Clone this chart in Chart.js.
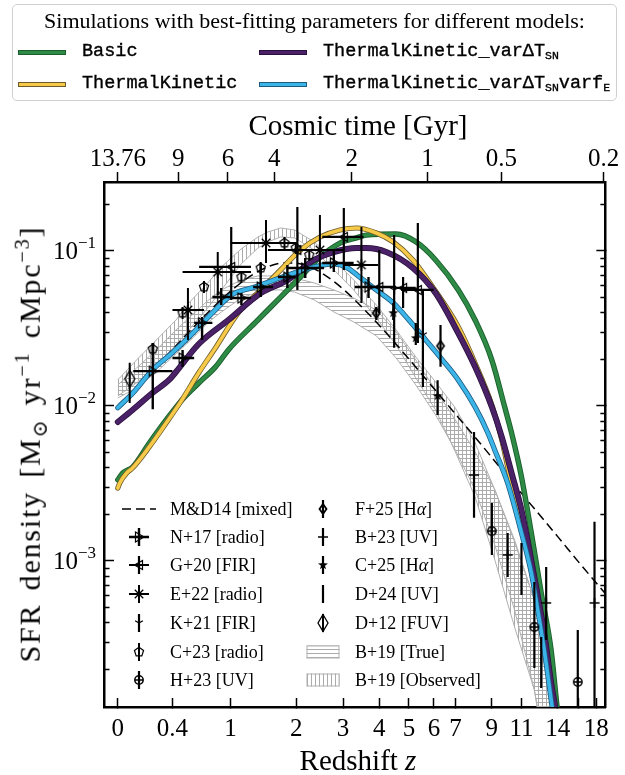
<!DOCTYPE html>
<html>
<head>
<meta charset="utf-8">
<script src="https://cdn.jsdelivr.net/npm/chart.js@4.4.1/dist/chart.umd.min.js"></script>
<style>
html,body{margin:0;padding:0;background:#fff;}
#wrap{position:relative;width:625px;height:775px;overflow:hidden;background:#fff;}
#c{position:absolute;left:0;top:0;}
.ser{font-family:"Liberation Serif","DejaVu Serif",serif;color:#000;position:absolute;white-space:nowrap;line-height:1;}
.mono{font-family:"Liberation Mono","DejaVu Sans Mono",monospace;color:#000;white-space:nowrap;font-size:18.5px;-webkit-text-stroke:0.35px #000;}
.mono sub{font-size:62%;vertical-align:-0.3em;line-height:0;}
#topleg{position:absolute;left:12px;top:4px;width:605px;height:97px;border:1px solid #d0d0d0;border-radius:5px;box-sizing:border-box;background:#fff;}
.sw{position:absolute;height:3px;width:46px;}
.lr{position:absolute;height:24px;line-height:24px;}
.lg{position:absolute;font-family:"Liberation Serif","DejaVu Serif",serif;font-size:18px;line-height:20px;height:20px;white-space:nowrap;color:#000;}
.lc{position:absolute;}
#ylab{left:30px;top:444px;font-size:30px;line-height:1.15;letter-spacing:1.8px;word-spacing:4px;transform:translate(-50%,-50%) rotate(-90deg);}
#ylab sub,#ylab sup{font-size:68%;line-height:0;}
.ytl{font-size:25px;text-align:right;width:80px;}
.ytl sup{font-size:17px;line-height:0;vertical-align:11px;}
</style>
</head>
<body>
<div id="wrap">
<canvas id="c" width="625" height="775"></canvas>
<div id="topleg">
  <div class="ser" style="left:0;width:100%;text-align:center;top:5px;font-size:22px;">Simulations with best-fitting parameters for different models:</div>
  <div class="sw" style="left:5px;top:45px;background:#2e8b46;border:1px solid #1b5e2b;"></div>
  <div class="lr mono" style="left:69px;top:35px;"><span>Basic</span></div>
  <div class="sw" style="left:5px;top:77px;background:#f7c948;border:1px solid #6b5b2a;"></div>
  <div class="lr mono" style="left:69px;top:67px;"><span>ThermalKinetic</span></div>
  <div class="sw" style="left:246px;top:45px;background:#4a2166;border:1px solid #2a0f3f;"></div>
  <div class="lr mono" style="left:310px;top:35px;"><span>ThermalKinetic_varΔT<sub>SN</sub></span></div>
  <div class="sw" style="left:246px;top:77px;background:#3bb5e8;border:1px solid #1d5a80;"></div>
  <div class="lr mono" style="left:310px;top:67px;"><span>ThermalKinetic_varΔT<sub>SN</sub>varf<sub>E</sub></span></div>
</div>
<div class="ser" style="left:104px;width:508px;text-align:center;top:111px;font-size:29px;">Cosmic time [Gyr]</div>
<div class="ser" style="left:104px;width:508px;text-align:center;top:746px;font-size:29px;">Redshift <i>z</i></div>
<div class="ser" id="ylab">SFR density [M<sub>⊙</sub> yr<sup>−1</sup> cMpc<sup>−3</sup>]</div>
<div id="ytl"></div>
<div id="inleg"></div>
</div>
<script>
// ---------------- axis ticks ----------------
const Z_TICKS = [0, 0.4, 1, 2, 3, 4, 5, 6, 7, 9, 11, 14, 16, 18];
const Z_TICK_LABELS = ['0', '0.4', '1', '2', '3', '4', '5', '6', '7', '9', '11', '14', '', '18'];
const TIME_TICK_Z = [0, 0.45, 0.97, 1.62, 3.22, 5.73, 9.6, 18.9];
const TIME_TICK_LABELS = ['13.76', '9', '6', '4', '2', '1', '0.5', '0.2'];
const Y_TICKS = [1e-3, 1e-2, 1e-1];
const Y_TICK_EXP = ['−3', '−2', '−1'];

// ---------------- simulation curves ----------------
const basicZ = [0, 0.031, 0.095, 0.214, 0.347, 0.484, 0.646, 0.825, 0.975, 1.327, 1.725, 2.077, 2.474, 2.925, 3.351, 3.623, 4.546, 5.263, 6.073, 7.134, 8.019, 9.0, 9.823, 10.29, 11.0, 11.75, 12.55, 13.4, 13.94, 14.6];
const basicSFR = [0.00332, 0.00368, 0.00402, 0.00574, 0.00809, 0.01089, 0.0140, 0.0178, 0.0229, 0.0342, 0.0502, 0.0676, 0.091, 0.112, 0.121, 0.126, 0.128, 0.114, 0.0871, 0.0558, 0.0357, 0.0197, 0.0098, 0.00667, 0.00347, 0.00151, 0.00062, 0.000266, 0.000114, 0.00005];

const tkZ = [0, 0.012, 0.056, 0.095, 0.214, 0.347, 0.484, 0.646, 0.825, 1.099, 1.413, 1.725, 2.077, 2.474, 2.925, 3.351, 3.912, 4.446, 5.15, 5.946, 7.134, 8.019, 9.0, 9.627, 10.15, 11.0, 11.6, 12.22, 12.8, 13.4, 13.76, 14.4];
const tkSFR = [0.00294, 0.00317, 0.00368, 0.00396, 0.00542, 0.00773, 0.01089, 0.0163, 0.0236, 0.0397, 0.0558, 0.0751, 0.101, 0.1225, 0.136, 0.140, 0.130, 0.114, 0.0871, 0.0583, 0.0322, 0.0188, 0.0101, 0.00601, 0.00357, 0.00178, 0.00101, 0.000558, 0.000308, 0.000163, 0.000114, 0.00005];

const varTZ = [0, 0.095, 0.237, 0.371, 0.43, 0.646, 0.975, 1.413, 1.844, 2.35, 2.78, 3.35, 3.62, 4.22, 5.15, 6.07, 7.13, 8.02, 9.0, 9.63, 10.29, 11.0, 11.45, 12.22, 12.8, 13.4, 13.76, 14.4];
const varTSFR = [0.00785, 0.00938, 0.01208, 0.01465, 0.0165, 0.0250, 0.0357, 0.0533, 0.0647, 0.0871, 0.098, 0.104, 0.104, 0.098, 0.0773, 0.0533, 0.0294, 0.0178, 0.0098, 0.00628, 0.00368, 0.00212, 0.00136, 0.00062, 0.000342, 0.000163, 0.000114, 0.00005];

const varTfZ = [0, 0.11, 0.237, 0.388, 0.549, 0.714, 0.858, 1.012, 1.327, 1.62, 1.96, 2.35, 2.62, 2.78, 3.09, 3.43, 3.91, 4.45, 5.00, 5.66, 6.38, 7.13, 8.02, 8.76, 9.18, 10.02, 11.0, 11.75, 12.22, 12.8, 13.49, 14.2];
const varTfSFR = [0.0097, 0.01245, 0.0170, 0.0216, 0.0277, 0.0357, 0.0434, 0.0518, 0.0583, 0.0647, 0.0718, 0.0785, 0.0815, 0.0820, 0.0780, 0.0676, 0.0558, 0.0460, 0.0357, 0.0265, 0.0197, 0.01465, 0.0098, 0.00667, 0.00517, 0.00317, 0.00151, 0.000834, 0.000503, 0.000266, 0.000114, 0.00005];

// ---------------- M&D14 ----------------
const md14Z = [0, 0.25, 0.5, 0.75, 1.0, 1.25, 1.5, 1.75, 2.0, 2.25, 2.5, 3.0, 3.5, 4.0, 5.0, 6.0, 7.0, 8.0, 10, 12, 14, 16, 19.5];
const md14SFR = [0.0095, 0.0171, 0.0275, 0.0404, 0.0546, 0.0680, 0.0781, 0.0832, 0.0831, 0.0788, 0.0720, 0.0566, 0.0431, 0.0330, 0.0200, 0.0129, 0.0088, 0.0063, 0.0035, 0.00216, 0.00143, 0.00099, 0.00058];

// ---------------- B+19 bands ----------------
const b19Z = [0, 0.122, 0.268, 0.431, 0.549, 0.749, 0.892, 1.137, 1.370, 1.518, 1.725, 1.968, 2.350, 2.782, 3.272, 3.912, 4.547, 5.263, 6.073, 6.988, 8.020, 9.186, 10.50, 11.99, 13.05, 13.66, 15.06];
const b19ObsHi = [0.01465, 0.01971, 0.02653, 0.03572, 0.04599, 0.06282, 0.07848, 0.1026, 0.1226, 0.1320, 0.1401, 0.1360, 0.1138, 0.0871, 0.0647, 0.0446, 0.0308, 0.0206, 0.01422, 0.00966, 0.00575, 0.00286, 0.00132, 0.000558, 0.000265, 0.000114, 0.0000286];
const b19ObsLo = [0.01155, 0.01401, 0.01831, 0.02464, 0.0308, 0.04334, 0.05578, 0.08208, 0.1041, 0.1138, 0.1226, 0.1208, 0.1010, 0.0751, 0.0558, 0.0368, 0.0246, 0.0151, 0.00938, 0.00503, 0.00258, 0.00101, 0.000373, 0.0001465, 0.0000518, 0.0000286, 0.0000136];
const b19TrueHi = [0.0136, 0.0175, 0.0229, 0.0308, 0.0368, 0.0481, 0.0558, 0.0647, 0.0687, 0.0687, 0.0687, 0.0666, 0.0619, 0.0558, 0.0495, 0.0414, 0.0299, 0.0197, 0.01263, 0.00808, 0.00503, 0.00286, 0.00136, 0.000558, 0.000246, 0.0001263, 0.0000286];
const b19TrueLo = [0.01121, 0.0130, 0.0165, 0.0216, 0.0258, 0.0347, 0.0402, 0.0495, 0.0541, 0.0558, 0.0558, 0.0541, 0.0481, 0.0402, 0.0347, 0.0282, 0.0203, 0.0136, 0.00871, 0.00518, 0.00286, 0.00126, 0.000481, 0.0001465, 0.0000446, 0.0000286, 0.0000136];

// ---------------- observations ----------------
const n17Z = [0.24, 0.49, 0.68, 0.89, 1.14, 1.41, 1.84, 2.17, 2.78, 3.68];
const n17ZLo = [0.10, 0.40, 0.60, 0.79, 1.00, 1.30, 1.68, 1.84, 2.52, 3.30];
const n17ZHi = [0.40, 0.60, 0.79, 1.00, 1.27, 1.60, 1.99, 2.56, 3.27, 4.55];
const n17SFR = [0.0167, 0.0203, 0.0342, 0.0502, 0.0495, 0.0583, 0.0676, 0.0773, 0.0833, 0.0583];
const n17Lo = [0.0095, 0.0178, 0.0265, 0.0446, 0.0446, 0.0502, 0.0575, 0.0666, 0.0729, 0.0495];
const n17Hi = [0.0254, 0.0229, 0.0373, 0.0575, 0.0533, 0.0833, 0.0809, 0.0897, 0.1010, 0.0676];

const g20Z = [1.01, 2.02, 3.02, 4.00, 4.79, 5.34];
const g20ZLo = [0.65, 1.52, 2.52, 3.62, 4.48, 4.72];
const g20ZHi = [1.27, 2.85, 3.54, 4.48, 5.26, 5.99];
const g20SFR = [0.0785, 0.101, 0.1226, 0.0583, 0.0575, 0.0558];
const g20Lo = [0.0481, 0.0558, 0.0751, 0.0396, 0.0427, 0.0254];
const g20Hi = [0.1422, 0.1914, 0.1886, 0.101, 0.0676, 0.1509];

const e22Z = [0.54, 0.85, 1.49, 2.47, 3.48];
const e22ZLo = [0.40, 0.49, 1.00, 2.08, 3.02];
const e22ZHi = [0.70, 1.27, 1.99, 3.02, 3.97];
const e22SFR = [0.0414, 0.0729, 0.1121, 0.101, 0.0809];
const e22Lo = [0.0265, 0.0518, 0.0833, 0.0619, 0.046];
const e22Hi = [0.0575, 0.0981, 0.1578, 0.1699, 0.1422];

const k21Z = [4.48, 5.54];
const k21SFR = [0.0558, 0.0286];
const k21Lo = [0.0236, 0.0132];
const k21Hi = [0.1263, 0.0558];

const c23Z = [0.24, 0.49, 0.70, 1.14, 1.41, 1.79, 1.99, 2.25];
const c23SFR = [0.0232, 0.0396, 0.0583, 0.0676, 0.0773, 0.1121, 0.1041, 0.0938];
const c23Lo = [0.0212, 0.0362, 0.0533, 0.0618, 0.0706, 0.1025, 0.0951, 0.0857];
const c23Hi = [0.0254, 0.0433, 0.0638, 0.0740, 0.0846, 0.1226, 0.1139, 0.1026];

const h23Z = [9.0, 11.99, 15.97];
const h23SFR = [0.00155, 0.000373, 0.000165];
const h23Lo = [0.00109, 0.000203, 0.0001];
const h23Hi = [0.00236, 0.000729, 0.000357];

const f25Z = [3.91, 6.29];
const f25SFR = [0.0396, 0.0243];
const f25Lo = [0.0357, 0.0178];
const f25Hi = [0.0433, 0.0331];

const b23Z = [7.96, 10.02, 12.97, 17.81];
const b23SFR = [0.00357, 0.00109, 0.000534, 0.000534];
const b23Lo = [0.00189, 0.000785, 0.000308, 0.00008];
const b23Hi = [0.00677, 0.00151, 0.000911, 0.00178];

const c25Z = [4.45, 5.26, 6.16];
const c25SFR = [0.0396, 0.0273, 0.01155];
const c25Lo = [0.0357, 0.0246, 0.00871];
const c25Hi = [0.0460, 0.0342, 0.0146];

const d24Z = [11.0, 12.55];
const d24SFR = [0.000871, 0.000229];
const d24Lo = [0.000601, 0.000151];
const d24Hi = [0.00130, 0.000322];

const d12Z = [0.076];
const d12SFR = [0.0149];
const d12Lo = [0.0104];
const d12Hi = [0.0189];

// ---------------- helpers ----------------
const SERIF = '"Liberation Serif","DejaVu Serif",serif';
const XMIN = -0.0369, XMAX = 1.3034;
const YMIN = 1.138e-4, YMAX = 0.2773;
const lx = z => Math.log10(1 + z);
const pts = (zs, ys) => zs.map((z, i) => ({x: lx(z), y: ys[i]}));

function mk(size, fn) {
  const c = document.createElement('canvas');
  c.width = size; c.height = size;
  const g = c.getContext('2d');
  g.strokeStyle = '#000'; g.fillStyle = '#000';
  fn(g, size / 2, size / 2);
  return c;
}
const MARK = {
  triR: () => mk(16, (g, x, y) => { g.lineWidth = 1.2; g.beginPath(); g.moveTo(x - 3.5, y - 5); g.lineTo(x + 5, y); g.lineTo(x - 3.5, y + 5); g.closePath(); g.stroke(); }),
  triL: () => mk(16, (g, x, y) => { g.lineWidth = 1.2; g.beginPath(); g.moveTo(x + 3.5, y - 4.5); g.lineTo(x - 4.5, y); g.lineTo(x + 3.5, y + 4.5); g.closePath(); g.stroke(); }),
  aster: () => mk(16, (g, x, y) => { g.lineWidth = 1.3; g.beginPath(); for (let k = 0; k < 4; k++) { const a = k * Math.PI / 4; g.moveTo(x + 6 * Math.cos(a), y + 6 * Math.sin(a)); g.lineTo(x - 6 * Math.cos(a), y - 6 * Math.sin(a)); } g.stroke(); }),
  tri1: () => mk(14, (g, x, y) => { g.lineWidth = 1.3; g.beginPath(); g.moveTo(x, y); g.lineTo(x, y + 4.5); g.moveTo(x, y); g.lineTo(x - 3.9, y - 2.3); g.moveTo(x, y); g.lineTo(x + 3.9, y - 2.3); g.stroke(); }),
  penta: () => mk(16, (g, x, y) => { g.lineWidth = 1.2; g.beginPath(); for (let k = 0; k < 5; k++) { const a = -Math.PI / 2 + k * 2 * Math.PI / 5; const px = x + 4.8 * Math.cos(a), py = y + 4.8 * Math.sin(a); if (k) g.lineTo(px, py); else g.moveTo(px, py); } g.closePath(); g.stroke(); }),
  oplus: () => mk(14, (g, x, y) => { g.lineWidth = 1.5; g.beginPath(); g.arc(x, y, 4.2, 0, 2 * Math.PI); g.moveTo(x - 4.2, y); g.lineTo(x + 4.2, y); g.moveTo(x, y - 4.2); g.lineTo(x, y + 4.2); g.stroke(); }),
  dthin: () => mk(16, (g, x, y) => { g.lineWidth = 1.8; g.beginPath(); g.moveTo(x, y - 5); g.lineTo(x + 3.5, y); g.lineTo(x, y + 5); g.lineTo(x - 3.5, y); g.closePath(); g.stroke(); }),
  plus: () => mk(14, (g, x, y) => { g.lineWidth = 1.4; g.beginPath(); g.moveTo(x - 5, y); g.lineTo(x + 5, y); g.moveTo(x, y - 5); g.lineTo(x, y + 5); g.stroke(); }),
  star5: () => mk(14, (g, x, y) => { g.beginPath(); for (let k = 0; k < 10; k++) { const r = k % 2 ? 2.1 : 5.2; const a = -Math.PI / 2 + k * Math.PI / 5; const px = x + r * Math.cos(a), py = y + r * Math.sin(a); if (k) g.lineTo(px, py); else g.moveTo(px, py); } g.closePath(); g.fill(); }),
  vline: () => mk(14, (g, x, y) => { g.lineWidth = 1.5; g.beginPath(); g.moveTo(x, y - 4.5); g.lineTo(x, y + 4.5); g.stroke(); }),
  dtall: () => mk(22, (g, x, y) => { g.lineWidth = 1.3; g.beginPath(); g.moveTo(x, y - 8.5); g.lineTo(x + 5, y); g.lineTo(x, y + 8.5); g.lineTo(x - 5, y); g.closePath(); g.stroke(); })
};

function hatchCanvas(dir) {
  const c = document.createElement('canvas'); c.width = 4; c.height = 4;
  const g = c.getContext('2d'); g.strokeStyle = '#ababab'; g.lineWidth = 1;
  g.beginPath();
  if (dir === 'h') { g.moveTo(0, 2.5); g.lineTo(4, 2.5); } else { g.moveTo(2.5, 0); g.lineTo(2.5, 4); }
  g.stroke();
  return c;
}
const mainCtx = document.getElementById('c').getContext('2d');
const patH = mainCtx.createPattern(hatchCanvas('h'), 'repeat');
const patV = mainCtx.createPattern(hatchCanvas('v'), 'repeat');

// ---------------- datasets ----------------
const datasets = [];
const bandEdge = '#b0b0b0';
datasets.push({data: pts(b19Z, b19ObsLo), borderColor: bandEdge, borderWidth: 1, pointRadius: 0, fill: false, order: 100});
datasets.push({data: pts(b19Z, b19ObsHi), borderColor: bandEdge, borderWidth: 1, pointRadius: 0, fill: '-1', backgroundColor: patV, order: 99});
datasets.push({data: pts(b19Z, b19TrueLo), borderColor: bandEdge, borderWidth: 1, pointRadius: 0, fill: false, order: 98});
datasets.push({data: pts(b19Z, b19TrueHi), borderColor: bandEdge, borderWidth: 1, pointRadius: 0, fill: '-1', backgroundColor: patH, order: 97});

datasets.push({data: pts(md14Z, md14SFR), borderColor: '#000', borderWidth: 1.5, borderDash: [9, 5], pointRadius: 0, fill: false, cubicInterpolationMode: 'monotone', order: 90});

function model(z, s, core, edge, wc, we, ord) {
  const base = {pointRadius: 0, fill: false, cubicInterpolationMode: 'monotone', borderJoinStyle: 'round', borderCapStyle: 'round'};
  datasets.push(Object.assign({data: pts(z, s), borderColor: edge, borderWidth: we, order: ord + 1}, base));
  datasets.push(Object.assign({data: pts(z, s), borderColor: core, borderWidth: wc, order: ord}, base));
}
model(basicZ, basicSFR, '#2e8b46', '#1b5e2b', 3.6, 5.4, 80);
model(tkZ, tkSFR, '#f7c948', '#6b5b2a', 3.6, 5.2, 78);
model(varTZ, varTSFR, '#4a2166', '#2a0f3f', 4.4, 6.0, 76);
model(varTfZ, varTfSFR, '#3bb5e8', '#1d5a80', 3.6, 5.2, 74);

function obs(z, s, lo, hi, zlo, zhi, marker, lw) {
  const d = [];
  for (let i = 0; i < z.length; i++) {
    if (zlo) { d.push({x: lx(zlo[i]), y: s[i]}, {x: lx(zhi[i]), y: s[i]}, {x: lx(zhi[i]), y: null}); }
    d.push({x: lx(z[i]), y: lo[i]}, {x: lx(z[i]), y: hi[i]}, {x: lx(z[i]), y: null});
  }
  datasets.push({data: d, borderColor: '#000', borderWidth: lw, pointRadius: 0, fill: false, spanGaps: false, borderCapStyle: 'butt', order: 10});
  datasets.push({data: pts(z, s), showLine: false, pointStyle: marker, pointRadius: 4, pointHoverRadius: 4, fill: false, order: 5});
}
obs(n17Z, n17SFR, n17Lo, n17Hi, n17ZLo, n17ZHi, MARK.triR(), 2.4);
obs(g20Z, g20SFR, g20Lo, g20Hi, g20ZLo, g20ZHi, MARK.triL(), 2.2);
obs(e22Z, e22SFR, e22Lo, e22Hi, e22ZLo, e22ZHi, MARK.aster(), 2.0);
obs(k21Z, k21SFR, k21Lo, k21Hi, null, null, MARK.tri1(), 2.2);
obs(c23Z, c23SFR, c23Lo, c23Hi, null, null, MARK.penta(), 2.0);
obs(h23Z, h23SFR, h23Lo, h23Hi, null, null, MARK.oplus(), 2.2);
obs(f25Z, f25SFR, f25Lo, f25Hi, null, null, MARK.dthin(), 2.2);
obs(b23Z, b23SFR, b23Lo, b23Hi, null, null, MARK.plus(), 2.2);
obs(c25Z, c25SFR, c25Lo, c25Hi, null, null, MARK.star5(), 2.2);
obs(d24Z, d24SFR, d24Lo, d24Hi, null, null, MARK.vline(), 2.2);
obs(d12Z, d12SFR, d12Lo, d12Hi, null, null, MARK.dtall(), 2.0);

// ---------------- minor ticks plugin ----------------
const minorTicks = {
  id: 'minorTicks',
  afterDraw(chart) {
    const y = chart.scales.y, a = chart.chartArea, g = chart.ctx;
    g.save(); g.strokeStyle = '#000'; g.lineWidth = 1.4;
    for (let e = -4; e <= 0; e++) {
      for (let m = 2; m <= 9; m++) {
        const v = m * Math.pow(10, e);
        if (v < y.min || v > y.max) continue;
        const p = Math.round(y.getPixelForValue(v)) + 0.5;
        g.beginPath();
        g.moveTo(a.left, p); g.lineTo(a.left + 5.5, p);
        g.moveTo(a.right, p); g.lineTo(a.right - 5, p);
        g.stroke();
      }
    }
    g.restore();
  }
};

const tickFont = {family: SERIF, size: 25};
const gridBase = {display: true, drawOnChartArea: false, drawTicks: true, tickWidth: 1.5, tickColor: '#000'};
const borderBase = {display: true, color: '#000', width: 2.5};

const chart = new Chart(mainCtx, {
  type: 'line',
  data: {datasets},
  options: {
    responsive: false, animation: false, devicePixelRatio: 1, events: [],
    layout: {padding: {left: 0, right: 13, top: 0, bottom: 0}, autoPadding: false},
    plugins: {legend: {display: false}, tooltip: {enabled: false}},
    scales: {
      x: {
        type: 'linear', position: 'bottom', min: XMIN, max: XMAX, z: 1,
        afterBuildTicks: s => { s.ticks = Z_TICKS.map(v => ({value: lx(v)})); },
        afterFit: s => { s.height = 68; },
        ticks: {autoSkip: false, maxRotation: 0, minRotation: 0, padding: 16, color: '#000', font: tickFont, callback: (v, i) => Z_TICK_LABELS[i]},
        grid: Object.assign({tickLength: -9}, gridBase),
        border: borderBase
      },
      xTop: {
        type: 'linear', position: 'top', min: XMIN, max: XMAX, z: 1,
        afterBuildTicks: s => { s.ticks = TIME_TICK_Z.map(v => ({value: lx(v)})); },
        afterFit: s => { s.height = 182; },
        ticks: {autoSkip: false, maxRotation: 0, minRotation: 0, padding: -2, color: '#000', font: tickFont, callback: (v, i) => TIME_TICK_LABELS[i]},
        grid: Object.assign({tickLength: 10}, gridBase),
        border: borderBase
      },
      y: {
        type: 'logarithmic', position: 'left', min: YMIN, max: YMAX, z: 1,
        afterBuildTicks: s => { s.ticks = Y_TICKS.map(v => ({value: v})); },
        afterFit: s => { s.width = 104; },
        ticks: {display: false},
        grid: Object.assign({tickLength: -10}, gridBase),
        border: borderBase
      },
      yR: {
        type: 'logarithmic', position: 'right', min: YMIN, max: YMAX, z: 1,
        afterBuildTicks: s => { s.ticks = Y_TICKS.map(v => ({value: v})); },
        afterFit: s => { s.width = 0; },
        ticks: {display: false},
        grid: Object.assign({tickLength: -9}, gridBase),
        border: borderBase
      }
    }
  },
  plugins: [minorTicks]
});

// y tick labels (10^n with real superscripts), placed with the y scale
const ytl = document.getElementById('ytl');
Y_TICKS.forEach((v, i) => {
  const py = chart.scales.y.getPixelForValue(v);
  const d = document.createElement('div');
  d.className = 'ser ytl';
  d.style.left = (96 - 80) + 'px';
  d.style.top = (py - 12.5) + 'px';
  d.innerHTML = '10<sup>' + Y_TICK_EXP[i] + '</sup>';
  ytl.appendChild(d);
});

// ---------------- inner legend (HTML) ----------------
const LEG_ROWS = [509, 537, 565, 594, 623, 652, 680];
const LEG_COL1 = ['M&amp;D14 [mixed]', 'N+17 [radio]', 'G+20 [FIR]', 'E+22 [radio]', 'K+21 [FIR]', 'C+23 [radio]', 'H+23 [UV]'];
const LEG_COL2 = ['F+25 [H<i>α</i>]', 'B+23 [UV]', 'C+25 [H<i>α</i>]', 'D+24 [UV]', 'D+12 [FUV]', 'B+19 [True]', 'B+19 [Observed]'];
const inleg = document.getElementById('inleg');
function legIcon(cx, cy, draw) {
  const c = document.createElement('canvas'); c.width = 44; c.height = 26; c.className = 'lc';
  c.style.left = (cx - 22) + 'px'; c.style.top = (cy - 13) + 'px';
  const g = c.getContext('2d'); g.strokeStyle = '#000'; g.fillStyle = '#000';
  draw(g, 22, 13);
  inleg.appendChild(c);
}
function eb(g, x, y, hx, vy, lw) {
  g.lineWidth = lw; g.beginPath();
  if (hx) { g.moveTo(x - hx, y); g.lineTo(x + hx, y); }
  g.moveTo(x, y - vy); g.lineTo(x, y + vy); g.stroke();
}
function putMarker(g, m, x, y) { g.drawImage(m, x - m.width / 2, y - m.height / 2); }
const c1x = 139, c2x = 323;
legIcon(c1x, LEG_ROWS[0], (g, x, y) => { g.lineWidth = 1.5; g.setLineDash([9, 5]); g.beginPath(); g.moveTo(x - 17, y); g.lineTo(x + 17, y); g.stroke(); });
legIcon(c1x, LEG_ROWS[1], (g, x, y) => { eb(g, x, y, 10, 9, 2.4); putMarker(g, MARK.triR(), x, y); });
legIcon(c1x, LEG_ROWS[2], (g, x, y) => { eb(g, x, y, 10, 9, 2.2); putMarker(g, MARK.triL(), x, y); });
legIcon(c1x, LEG_ROWS[3], (g, x, y) => { eb(g, x, y, 10, 9, 2.0); putMarker(g, MARK.aster(), x, y); });
legIcon(c1x, LEG_ROWS[4], (g, x, y) => { eb(g, x, y, 0, 9, 2.2); putMarker(g, MARK.tri1(), x, y); });
legIcon(c1x, LEG_ROWS[5], (g, x, y) => { eb(g, x, y, 0, 9, 2.0); putMarker(g, MARK.penta(), x, y); });
legIcon(c1x, LEG_ROWS[6], (g, x, y) => { eb(g, x, y, 0, 9, 2.2); putMarker(g, MARK.oplus(), x, y); });
legIcon(c2x, LEG_ROWS[0], (g, x, y) => { eb(g, x, y, 0, 9, 2.2); putMarker(g, MARK.dthin(), x, y); });
legIcon(c2x, LEG_ROWS[1], (g, x, y) => { eb(g, x, y, 0, 9, 2.2); putMarker(g, MARK.plus(), x, y); });
legIcon(c2x, LEG_ROWS[2], (g, x, y) => { eb(g, x, y, 0, 9, 2.2); putMarker(g, MARK.star5(), x, y); });
legIcon(c2x, LEG_ROWS[3], (g, x, y) => { eb(g, x, y, 0, 9, 2.2); putMarker(g, MARK.vline(), x, y); });
legIcon(c2x, LEG_ROWS[4], (g, x, y) => { eb(g, x, y, 0, 9, 2.0); putMarker(g, MARK.dtall(), x, y); });
legIcon(c2x, LEG_ROWS[5], (g, x, y) => { g.fillStyle = g.createPattern(hatchCanvas('h'), 'repeat'); g.fillRect(x - 16.5, y - 6.5, 33, 13); g.strokeStyle = '#b0b0b0'; g.lineWidth = 1; g.strokeRect(x - 16, y - 6, 32, 12); });
legIcon(c2x, LEG_ROWS[6], (g, x, y) => { g.fillStyle = g.createPattern(hatchCanvas('v'), 'repeat'); g.fillRect(x - 16.5, y - 6.5, 33, 13); g.strokeStyle = '#b0b0b0'; g.lineWidth = 1; g.strokeRect(x - 16, y - 6, 32, 12); });
function legText(x, y, html) {
  const d = document.createElement('div'); d.className = 'lg';
  d.style.left = x + 'px'; d.style.top = (y - 10) + 'px'; d.innerHTML = html;
  inleg.appendChild(d);
}
LEG_COL1.forEach((t, i) => legText(170, LEG_ROWS[i], t));
LEG_COL2.forEach((t, i) => legText(355, LEG_ROWS[i], t));
</script>
</body>
</html>
